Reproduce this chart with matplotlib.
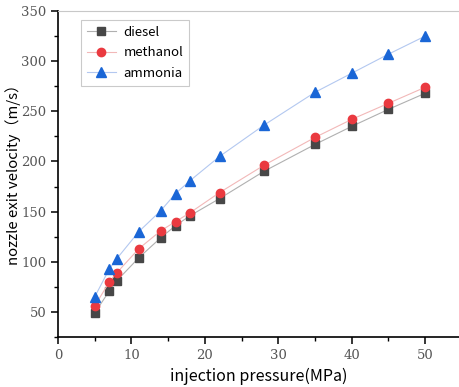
import matplotlib
matplotlib.use("Agg")
import matplotlib.pyplot as plt
from matplotlib.ticker import MultipleLocator

pressure = [5, 7, 8, 11, 14, 16, 18, 22, 28, 35, 40, 45, 50]
diesel = [49, 71, 81, 104, 124, 136, 146, 163, 190, 217, 235, 252, 268]
methanol = [56, 80, 89, 113, 131, 140, 149, 169, 196, 224, 242, 258, 274]
ammonia = [65, 93, 103, 130, 151, 168, 181, 205, 236, 269, 288, 307, 325]
xticks = [0, 10, 20, 30, 40, 50]
yticks = [50, 100, 150, 200, 250, 300, 350]

fig = plt.figure(figsize=(4.59, 3.87), dpi=100)
ax = fig.add_axes([58/459, 1-337/387, 1-58/459, (337-11)/387])

ax.plot(pressure, diesel, color="#b0b0b0", lw=0.8, marker="s", ms=5.3,
        mfc="#474747", mec="#474747", label="diesel")
ax.plot(pressure, methanol, color="#f2b8b8", lw=0.8, marker="o", ms=6,
        mfc="#ea3a40", mec="#ea3a40", label="methanol")
ax.plot(pressure, ammonia, color="#b3c8f0", lw=0.8, marker="^", ms=6.5,
        mfc="#1a66d6", mec="#1a66d6", label="ammonia")

ax.set_xlim(0, 54.6)
ax.set_ylim(25, 350)
ax.set_xticks(xticks, [str(t) for t in xticks], fontfamily="DejaVu Serif",
              fontsize=9.5, color="#555555")
ax.set_yticks(yticks, [str(t) for t in yticks], fontfamily="DejaVu Serif",
              fontsize=9.5, color="#555555")
ax.xaxis.set_minor_locator(MultipleLocator(5))
ax.yaxis.set_minor_locator(MultipleLocator(25))

ax.spines["right"].set_visible(False)
ax.spines["top"].set_color("#c8c8c8")
ax.spines["left"].set_linewidth(1.2)
ax.spines["bottom"].set_linewidth(1.2)
ax.tick_params(which="major", direction="out", length=5, width=1.1)
ax.tick_params(which="minor", direction="out", length=3, width=1.0)

ax.set_xlabel("injection pressure(MPa)", fontsize=11.5,
              family=["Noto Sans CJK SC", "DejaVu Sans"], labelpad=4)
ax.set_ylabel("nozzle exit velocity（m/s）", fontsize=10.8,
              family=["Noto Sans CJK SC", "DejaVu Sans"])
ax.yaxis.set_label_coords((21 - 58) / 401, 0.51)

leg = ax.legend(loc="upper left", bbox_to_anchor=(0.057, 0.972),
                borderaxespad=0, frameon=True, fancybox=False,
                edgecolor="#bdbdbd", handlelength=2.2, handletextpad=0.6,
                borderpad=0.45, labelspacing=0.55,
                prop={"family": "Noto Sans CJK SC", "size": 9.5})
leg.get_frame().set_linewidth(0.8)

fig.savefig("out.png", dpi=100)
